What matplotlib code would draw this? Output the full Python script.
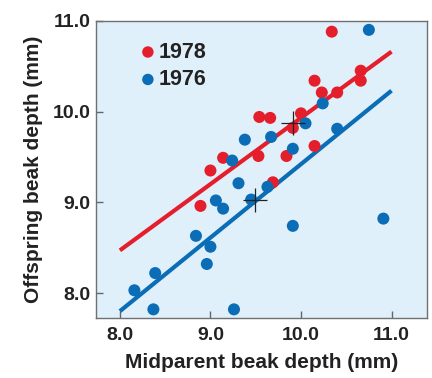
import matplotlib
matplotlib.use("Agg")
import matplotlib.pyplot as plt

plt.rcParams['font.family'] = ['Liberation Sans', 'DejaVu Sans']
plt.rcParams['font.weight'] = 'bold'

# 1978 offspring vs midparent
x78 = [10.34, 10.66, 10.66, 10.15, 10.23, 10.40, 10.00, 9.54, 9.66, 9.91,
       10.15, 9.84, 9.53, 9.14, 9.00, 8.89, 9.69]
y78 = [10.88, 10.45, 10.34, 10.34, 10.21, 10.21, 9.98, 9.94, 9.93, 9.82,
       9.62, 9.51, 9.51, 9.49, 9.35, 8.96, 9.22]

# 1976 offspring vs midparent
x76 = [10.75, 10.24, 10.05, 9.67, 9.38, 9.91, 10.40, 9.24, 9.31, 9.06, 9.14,
       9.45, 9.63, 9.91, 10.91, 8.84, 9.00, 8.96, 8.39, 8.16, 8.37, 9.26]
y76 = [10.90, 10.09, 9.87, 9.72, 9.69, 9.59, 9.81, 9.46, 9.21, 9.02, 8.93,
       9.03, 9.17, 8.74, 8.82, 8.63, 8.51, 8.32, 8.22, 8.03, 7.82, 7.82]

# regression lines (end points)
fit_x = [8.0, 11.0]
fit78 = [8.47, 10.66]
fit76 = [7.80, 10.23]

# means (crosshairs)
mean_x = [9.91, 9.49]
mean_y = [9.87, 9.02]

red = '#e41f2b'
blue = '#0b6db5'

fig = plt.figure(figsize=(4.32, 3.78), dpi=100)
ax = fig.add_axes([0.222, 0.16, 0.766, 0.785])
ax.set_facecolor('#dff0fb')

ax.plot(fit_x, fit78, color=red, lw=3, solid_capstyle='butt', zorder=2)
ax.plot(fit_x, fit76, color=blue, lw=3, solid_capstyle='butt', zorder=2)
ax.scatter(x78, y78, s=75, color=red, edgecolors='none', zorder=3, label='1978')
ax.scatter(x76, y76, s=75, color=blue, edgecolors='none', zorder=3, label='1976')
ax.plot(mean_x, mean_y, ls='none', marker='+', ms=17, mew=0.9, color='#222222', zorder=4)

ax.set_xlim(7.735, 11.39)
ax.set_ylim(7.73, 11.0)
ax.set_xticks([8.0, 9.0, 10.0, 11.0])
ax.set_yticks([8.0, 9.0, 10.0, 11.0])
ax.set_xticklabels(['8.0', '9.0', '10.0', '11.0'])
ax.set_yticklabels(['8.0', '9.0', '10.0', '11.0'])
ax.tick_params(direction='in', length=5, width=1, color='#666666',
               labelsize=14, labelcolor='#222222')
ax.tick_params(axis='x', pad=7)
ax.tick_params(axis='y', pad=4)
for s in ax.spines.values():
    s.set_color('#707070')
    s.set_linewidth(1)

ax.set_xlabel('Midparent beak depth (mm)', fontsize=15, fontweight='bold',
              color='#222222', labelpad=6)
ax.set_ylabel('Offspring beak depth (mm)', fontsize=15, fontweight='bold',
              color='#222222', labelpad=7)

leg = ax.legend(loc='upper left', bbox_to_anchor=(0.066, 0.995), frameon=False,
                handlelength=1.0, handletextpad=0.0, labelspacing=0.3,
                markerscale=0.95, prop={'size': 15.5, 'weight': 'bold'})
for t in leg.get_texts():
    t.set_color('#222222')

fig.savefig('out.png', dpi=100)
